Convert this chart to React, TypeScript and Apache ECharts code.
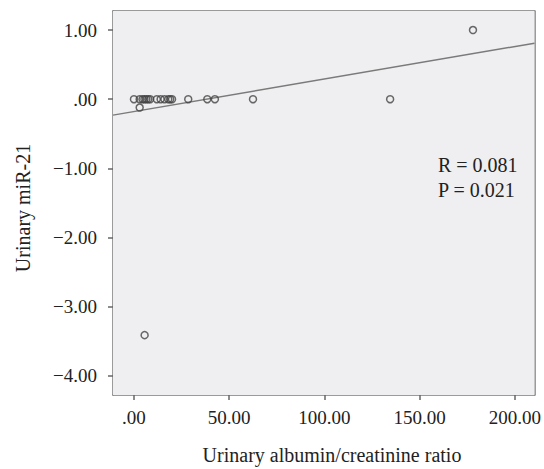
import React, { useEffect, useRef } from "react";
import * as echarts from "echarts";

const ratioValues = [0, 3, 4.5, 5.5, 6.5, 7.5, 8.5, 12, 14, 16, 18, 19, 20, 28.5, 38.5, 42.5, 62.5, 134.5, 178, 3, 5.6];
const mir21Values = [0, 0, 0, 0, 0, 0, 0, 0, 0, 0, 0, 0, 0, 0, 0, 0, 0, 0, 1.0, -0.12, -3.41];
const fitX = [-11, 210.3];
const fitY = [-0.23, 0.81];
const xTicks = [0, 50, 100, 150, 200];
const yTicks = [1, 0, -1, -2, -3, -4];
const xRange = [-11, 210.3];
const yRange = [-4.275, 1.275];
const xTitle = "Urinary albumin/creatinine ratio";
const yTitle = "Urinary miR-21";
const statR = "R = 0.081";
const statP = "P = 0.021";

const fmt = (v: number) => {
  if (Math.abs(v) < 1e-9) return ".00";
  return v < 0 ? "\u2212" + Math.abs(v).toFixed(2) : v.toFixed(2);
};

const FONT = "'Liberation Serif', 'DejaVu Serif', serif";
const FRAME = "#7a7a7a";
const TXT = "#222";

export default function App() {
  const ref = useRef<HTMLDivElement>(null);
  useEffect(() => {
    document.body.style.margin = "0";
    const chart = echarts.init(ref.current!, null, { renderer: "svg" });
    const points = ratioValues.map((x, i) => [x, mir21Values[i]]);
    const fit = fitX.map((x, i) => [x, fitY[i]]);
    const frameAxis = {
      type: "value",
      splitLine: { show: false },
      axisTick: { show: false },
      axisLabel: { show: false },
      axisLine: { show: true, onZero: false, lineStyle: { color: FRAME, width: 1.5 } },
    };
    chart.setOption({
      animation: false,
      backgroundColor: "#ffffff",
      textStyle: { fontFamily: FONT },
      grid: { left: 113, top: 11, right: 5, bottom: 74 },
      xAxis: [
        {
          type: "value",
          min: xRange[0],
          max: xRange[1],
          splitLine: { show: false },
          axisLine: { show: true, onZero: false, lineStyle: { color: FRAME, width: 1.5 } },
          axisTick: {
            show: true,
            customValues: xTicks,
            length: 5,
            lineStyle: { color: "#666", width: 1.5 },
          },
          axisLabel: {
            customValues: xTicks,
            formatter: fmt,
            color: TXT,
            fontSize: 19,
            fontFamily: FONT,
            margin: 13,
          },
        },
        { ...frameAxis, position: "top", min: xRange[0], max: xRange[1] },
      ],
      yAxis: [
        {
          type: "value",
          min: yRange[0],
          max: yRange[1],
          splitLine: { show: false },
          axisLine: { show: true, onZero: false, lineStyle: { color: FRAME, width: 1.5 } },
          axisTick: {
            show: true,
            customValues: yTicks,
            length: 5,
            lineStyle: { color: "#666", width: 1.5 },
          },
          axisLabel: {
            customValues: yTicks,
            formatter: fmt,
            color: TXT,
            fontSize: 19,
            fontFamily: FONT,
            margin: 16,
          },
        },
        { ...frameAxis, position: "right", min: yRange[0], max: yRange[1] },
      ],
      graphic: [
        {
          type: "text",
          z: 100,
          x: 332,
          y: 455,
          style: {
            text: xTitle,
            fill: TXT,
            font: "20px " + FONT,
            textAlign: "center",
            textVerticalAlign: "middle",
          },
        },
        {
          type: "text",
          z: 100,
          x: 23,
          y: 208,
          rotation: Math.PI / 2,
          style: {
            text: yTitle,
            fill: TXT,
            font: "20px " + FONT,
            textAlign: "center",
            textVerticalAlign: "middle",
          },
        },
        {
          type: "text",
          z: 100,
          x: 438,
          y: 165,
          style: { text: statR, fill: TXT, font: "20px " + FONT, textVerticalAlign: "middle" },
        },
        {
          type: "text",
          z: 100,
          x: 438,
          y: 190,
          style: { text: statP, fill: TXT, font: "20px " + FONT, textVerticalAlign: "middle" },
        },
      ],
      series: [
        {
          type: "line",
          data: fit,
          symbol: "none",
          lineStyle: { color: FRAME, width: 1.5 },
          z: 1,
          markArea: {
            silent: true,
            itemStyle: { color: "#efeff1" },
            data: [[{ coord: [xRange[0], yRange[0]] }, { coord: [xRange[1], yRange[1]] }]],
          },
        },
        {
          type: "scatter",
          data: points,
          symbol: "circle",
          symbolSize: 7,
          itemStyle: { color: "rgba(0,0,0,0)", borderColor: "#444", borderWidth: 1.5 },
          z: 2,
        },
      ],
    });
    return () => chart.dispose();
  }, []);
  return <div ref={ref} style={{ width: 544, height: 469 }} />;
}
